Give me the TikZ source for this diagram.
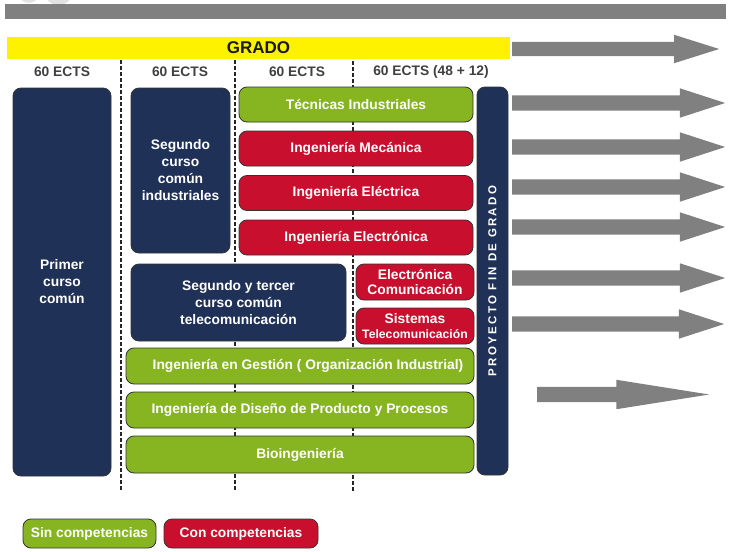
\documentclass[tikz,border=0pt]{standalone}
\usepackage{fontspec}
\setmainfont{Liberation Sans}
\newfontfamily\spacedfont[LetterSpace=20]{Liberation Sans}
\usetikzlibrary{shapes.arrows}

\definecolor{navyblue}{HTML}{203158}
\definecolor{limegreen}{HTML}{86B521}
\definecolor{crimson}{HTML}{C8102E}
\definecolor{arrowgray}{HTML}{808080}
\definecolor{darktext}{HTML}{404040}
\definecolor{ghostgray}{HTML}{E2E2E2}

\tikzset{
  box/.style={rounded corners=8pt, draw=black!80, line width=0.8pt, text=white,
    align=center, inner sep=0pt, font=\bfseries\fontsize{13.8}{17}\selectfont},
  navybox/.style={box, fill=navyblue},
  greenbox/.style={box, fill=limegreen},
  redbox/.style={box, fill=crimson},
  ects/.style={text=darktext, font=\bfseries\fontsize{13.8}{16}\selectfont},
  bigarrow/.style={single arrow, fill=arrowgray, anchor=tail, inner xsep=0pt,
    inner ysep=7.5pt, single arrow head extend=7pt, single arrow tip angle=36,
    minimum height=213pt},
  sepline/.style={line width=1.6pt, dash pattern=on 4pt off 2pt, black!85}
}

\begin{document}
\begin{tikzpicture}[x=1pt,y=-1pt]
    \useasboundingbox (0,0) rectangle (732,552);

    % Logo remains at the top
    \begin{scope}
        \clip (0,0) rectangle (732,552);
        \fill[ghostgray] (29,-8) circle (11);
        \fill[ghostgray] (58.5,-10) circle (15);
    \end{scope}

    % Top bar
    \node[fill=arrowgray, inner sep=0pt, minimum width=721pt, minimum height=15pt] (topbar) at (365.5,11.5) {};

    % Grado bar
    \node[fill=yellow, inner sep=0pt, minimum width=503pt, minimum height=22pt,
          font=\bfseries\fontsize{17}{19}\selectfont, text=black!90] (grado) at (258.5,48) {GRADO};

    % Credits per year
    \node[ects] (ects1) at (62,72) {60 ECTS};
    \node[ects] (ects2) at (180,72) {60 ECTS};
    \node[ects] (ects3) at (297,72) {60 ECTS};
    \node[ects] (ects4) at (431,72) {60 ECTS (48 + 12)};

    % Year separators
    \draw[sepline] (121,60) -- (121,490);
    \draw[sepline] (235,60) -- (235,491);
    \draw[sepline] (353,61) -- (353,491);

    % First and second year
    \node[navybox, minimum width=98pt, minimum height=388pt] (primer) at (62,282) {Primer\\curso\\común};
    \node[navybox, minimum width=99pt, minimum height=165pt] (segind) at (180.5,170.5) {Segundo\\curso\\común\\industriales};
    \node[navybox, minimum width=215pt, minimum height=77pt] (segtel) at (238.5,302.5) {Segundo y tercer\\curso común\\telecomunicación};

    % Industrial degrees
    \node[greenbox, minimum width=234pt, minimum height=35pt] (tecnicas) at (356,104.5) {Técnicas Industriales};
    \node[redbox, minimum width=234pt, minimum height=35pt] (mecanica) at (356,148.5) {Ingeniería Mecánica};
    \node[redbox, minimum width=234pt, minimum height=35pt] (electrica) at (356,193) {Ingeniería Eléctrica};
    \node[redbox, minimum width=234pt, minimum height=35pt] (electronica) at (356,237.5) {Ingeniería Electrónica};

    % Telecommunication degrees
    \node[redbox, minimum width=118pt, minimum height=36pt, font=\bfseries\fontsize{13.8}{15.5}\selectfont] (eleccom) at (415,282) {Electrónica\\Comunicación};
    \node[redbox, minimum width=118pt, minimum height=36pt, font=\bfseries\fontsize{13.8}{15.5}\selectfont] (sistel) at (415,326) {Sistemas\\{\fontsize{12.2}{14}\selectfont Telecomunicación}};

    % Common degrees
    \node[greenbox, minimum width=348pt, minimum height=36pt] (gestion) at (300,366) {\hspace*{16pt}Ingeniería en Gestión ( Organización Industrial)};
    \node[greenbox, minimum width=348pt, minimum height=36pt] (diseno) at (300,410) {Ingeniería de Diseño de Producto y Procesos};
    \node[greenbox, minimum width=348pt, minimum height=37pt] (bio) at (300,454.5) {Bioingeniería};

    % Final project
    \node[navybox, rotate=90, minimum width=388pt, minimum height=31pt,
          font=\spacedfont\bfseries\fontsize{11.5}{14}\selectfont] (proyecto) at (492.5,281) {PROYECTO FIN DE GRADO};

    % Arrows to the right
    \node[bigarrow, minimum height=207pt, single arrow tip angle=35, inner ysep=7pt] (arrgrado) at (512,49) {};
    \node[bigarrow] (arrtec) at (512,103) {};
    \node[bigarrow] (arrmec) at (512,147) {};
    \node[bigarrow] (arrelec) at (512,187) {};
    \node[bigarrow] (arrelon) at (512,227) {};
    \node[bigarrow] (arrcom) at (512,278) {};
    \node[bigarrow, minimum height=212pt] (arrsis) at (512,324) {};
    \node[bigarrow, minimum height=172pt, single arrow tip angle=18] (arrlow) at (537,394.5) {};

    % Legend
    \node[greenbox, minimum width=133pt, minimum height=29pt] (sincomp) at (89.5,533.5) {Sin competencias};
    \node[redbox, minimum width=154pt, minimum height=29pt] (concomp) at (241,533.5) {Con competencias};
\end{tikzpicture}
\end{document}
